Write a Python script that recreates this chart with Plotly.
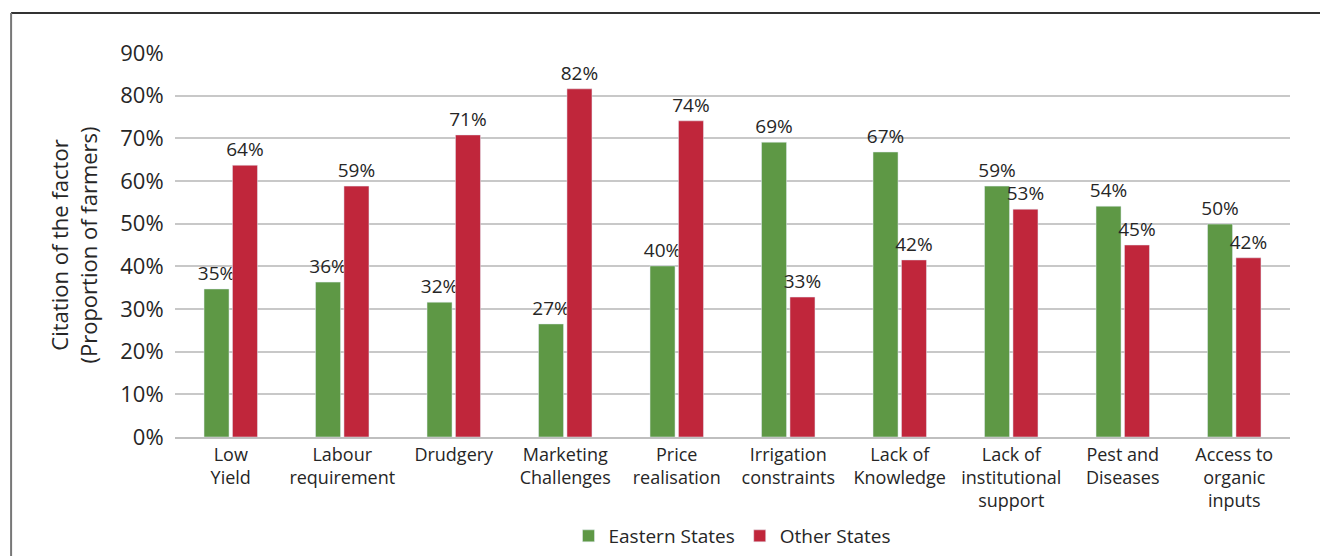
import plotly.graph_objects as go

FONT = "Open Sans, Noto Sans, sans-serif"
TEXT = "#262626"
GREEN = "#5E9845"
RED = "#C0263B"

categories = [
    "Low<br>Yield", "Labour<br>requirement", "Drudgery", "Marketing<br>Challenges",
    "Price<br>realisation", "Irrigation<br>constraints", "Lack of<br>Knowledge",
    "Lack of<br>institutional<br>support", "Pest and<br>Diseases", "Access to<br>organic<br>inputs",
]
eastern = [0.347, 0.363, 0.316, 0.265, 0.401, 0.691, 0.668, 0.588, 0.541, 0.499]
other = [0.637, 0.588, 0.708, 0.816, 0.741, 0.328, 0.415, 0.534, 0.450, 0.420]
y_ticks = [0, 0.1, 0.2, 0.3, 0.4, 0.5, 0.6, 0.7, 0.8, 0.9]


def _bar(y, name, color):
    return go.Bar(x=categories, y=y, name=name, marker_color=color,
        texttemplate="%{y:.0%}", textposition="outside", cliponaxis=False,
        constraintext="none", textfont=dict(size=19, color=TEXT))


fig = go.Figure()
fig.add_trace(_bar(eastern, "Eastern States", GREEN))
fig.add_trace(_bar(other, "Other States", RED))

# frame around the figure (only top and left edges are visible)
fig.add_shape(type="line", xref="paper", yref="paper", x0=-0.147, x1=1.05, y0=1.104, y1=1.104,
    line=dict(color="#333", width=2))
fig.add_shape(type="line", xref="paper", yref="paper", x0=-0.147, x1=-0.147, y0=1.104, y1=-0.6,
    line=dict(color="#777", width=2))

fig.update_layout(
    width=1320, height=556,
    font=dict(family=FONT, color=TEXT),
    plot_bgcolor="white", paper_bgcolor="white",
    margin=dict(l=175, r=30, t=53, b=119),
    barmode="group", bargap=0.49, bargroupgap=0.12,
    showlegend=True,
    legend=dict(orientation="h", x=0.5, xanchor="center", yref="container", y=0.036,
                yanchor="middle", font=dict(size=19, color=TEXT), itemwidth=30),
    xaxis=dict(tickfont=dict(size=18, color=TEXT), showline=True, linecolor="#bfbfbf",
               linewidth=2, ticks="", tickangle=0, automargin=False),
    yaxis=dict(range=[0, 0.9], tickvals=y_ticks, tickformat=".0%", automargin=False,
               tickfont=dict(size=22, color=TEXT), gridcolor="#c8c8c8", gridwidth=1.5,
               zeroline=False, ticklen=6, ticks="outside", tickcolor="white",
               title=dict(text="Citation of the factor<br>(Proportion of farmers)",
                          font=dict(size=22, color=TEXT), standoff=16)),
)

# drop the default page margin so the figure sits at the window origin
fig.write_html("out.html", config={"displayModeBar": False},
    post_script="document.body.style.margin='0';document.body.style.overflow='hidden';")
